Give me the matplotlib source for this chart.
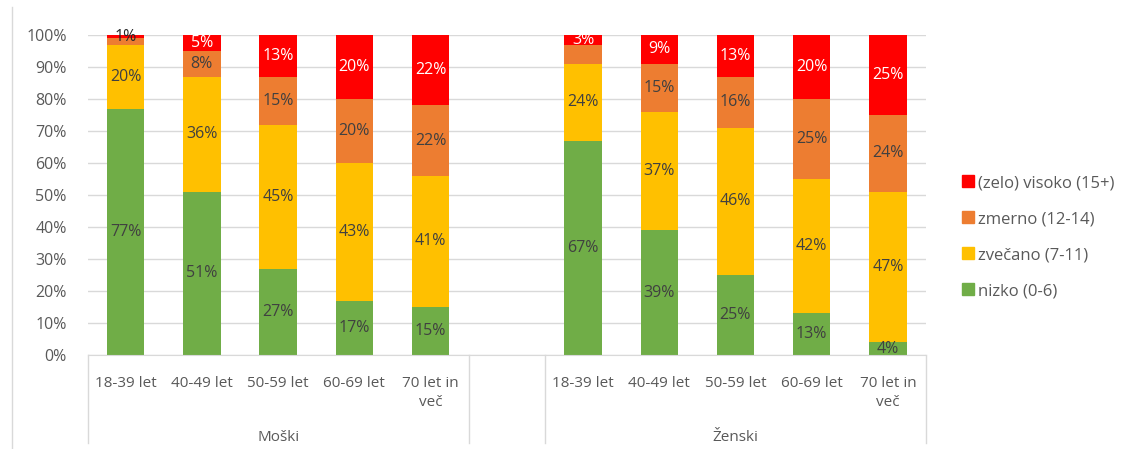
import matplotlib
matplotlib.use("Agg")
import matplotlib.pyplot as plt
from matplotlib.lines import Line2D
import numpy as np

plt.rcParams['font.family'] = ['Open Sans', 'DejaVu Sans']

age_groups = ["18-39 let", "40-49 let", "50-59 let", "60-69 let", "70 let in\nveč"]
sexes = ["Moški", "Ženski"]

# shares in %, per age group (Moški then Ženski)
nizko_m = [77, 51, 27, 17, 15]
zvecano_m = [20, 36, 45, 43, 41]
zmerno_m = [2, 8, 15, 20, 22]
visoko_m = [1, 5, 13, 20, 22]

nizko_z = [67, 39, 25, 13, 4]
zvecano_z = [24, 37, 46, 42, 47]
zmerno_z = [6, 15, 16, 25, 24]
visoko_z = [3, 9, 13, 20, 25]

series = [
    ("nizko (0-6)", nizko_m + nizko_z, "#70AD47", "#404040"),
    ("zvečano (7-11)", zvecano_m + zvecano_z, "#FFC000", "#404040"),
    ("zmerno (12-14)", zmerno_m + zmerno_z, "#ED7D31", "#404040"),
    ("(zelo) visoko (15+)", visoko_m + visoko_z, "#FF0000", "white"),
]

# empty slot between the two groups
x = np.array([0, 1, 2, 3, 4, 6, 7, 8, 9, 10])

fig = plt.figure(figsize=(11.33, 4.49), dpi=100)
ax = fig.add_axes([87.5 / 1133, 1 - 355 / 449, (926 - 87.5) / 1133, 320 / 449])

bottom = np.zeros(len(x))
handles = []
for name, vals, col, tcol in series:
    v = np.array(vals) / 100.0
    ax.bar(x, v, bottom=bottom, width=0.49, color=col, zorder=2)
    for i, (xi, b, h, raw) in enumerate(zip(x, bottom, v, vals)):
        if name == "zmerno (12-14)" and i in (0, 5):
            continue  # excel hid these labels
        c = tcol
        if raw == 1:
            c = "#262626"
        ax.text(xi, b + h / 2, f"{raw}%", ha="center", va="center",
                fontsize=11.5, color=c, zorder=3)
    bottom += v
    handles.append(Line2D([], [], marker="s", linestyle="none", markersize=8.5,
                          markerfacecolor=col, markeredgecolor=col, label=name))

ax.set_xlim(-0.5, 10.5)
ax.set_ylim(0, 1)
ax.set_yticks(np.arange(0, 1.01, 0.1))
ax.set_yticklabels([f"{int(round(t * 100))}%" for t in np.arange(0, 1.01, 0.1)],
                   fontsize=11.5, color="#595959")
ax.yaxis.grid(True, color="#D9D9D9", linewidth=1, zorder=0)
ax.tick_params(axis="y", length=0, pad=15)
ax.tick_params(axis="x", length=0, labelbottom=False)
for s in ["top", "right", "left"]:
    ax.spines[s].set_visible(False)
ax.spines["bottom"].set_color("#D9D9D9")

# two-level category axis
for xi, lab in zip(x, age_groups * 2):
    ax.text(xi, -0.065, lab, ha="center", va="top", fontsize=11,
            color="#595959", linespacing=1.4, transform=ax.get_xaxis_transform())
for xc, lab in zip([2, 8], sexes):
    ax.text(xc, -0.235, lab, ha="center", va="top", fontsize=11,
            color="#595959", transform=ax.get_xaxis_transform())
for xs in [-0.5, 4.5, 5.5, 10.5]:
    ax.plot([xs, xs], [0, -0.275], color="#D9D9D9", linewidth=1,
            transform=ax.get_xaxis_transform(), clip_on=False)

# outer chart border on the left
fig.add_artist(Line2D([12 / 1133, 12 / 1133], [0, 1 - 7 / 449],
                      color="#D9D9D9", linewidth=1))

leg = fig.legend(handles=handles[::-1], loc="upper left",
                 bbox_to_anchor=(945 / 1133, 1 - 160 / 449), frameon=False,
                 fontsize=12, labelspacing=1.2, handletextpad=0.1,
                 handlelength=1.0)
for t in leg.get_texts():
    t.set_color("#595959")

fig.savefig("out.png", dpi=100)
